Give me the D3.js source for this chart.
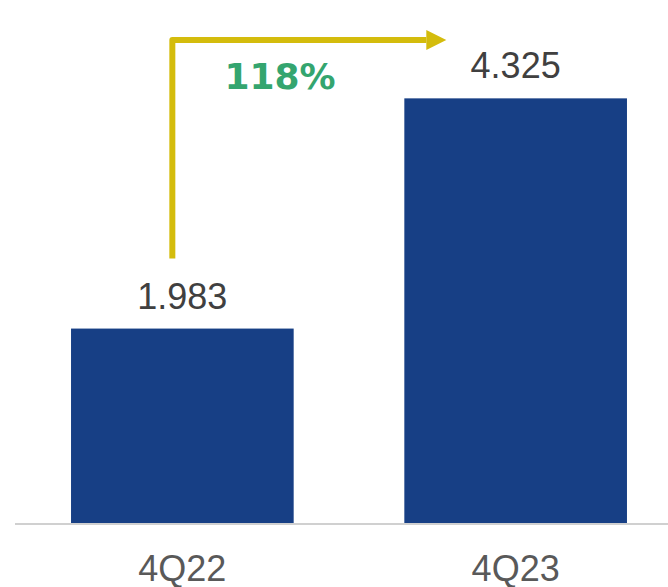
<!DOCTYPE html>
<html>
<head>
<meta charset="utf-8">
<script src="https://cdn.jsdelivr.net/npm/d3@7"></script>
<style>
  html, body { margin: 0; padding: 0; background: #ffffff; }
  svg { display: block; }
</style>
</head>
<body>
<svg id="chart" width="668" height="587"></svg>
<script>
const categories = ["4Q22", "4Q23"];
const values = [1.983, 4.325];
const valueLabels = ["1.983", "4.325"];
const growthLabel = "118%";

const W = 668, H = 587;
const svg = d3.select("#chart");

const x = d3.scaleBand()
  .domain(categories)
  .range([15.7, 682.3])
  .paddingInner(0.332)
  .paddingOuter(0.166);

const y = d3.scaleLinear()
  .domain([0, 5])
  .range([523.5, 523.5 - 5 * 98.3]);

// bars
svg.selectAll("rect.bar")
  .data(values)
  .enter().append("rect")
  .attr("class", "bar")
  .attr("x", (d, i) => x(categories[i]))
  .attr("width", x.bandwidth())
  .attr("y", d => y(d))
  .attr("height", d => y(0) - y(d))
  .attr("fill", "#173F85");

// baseline
svg.append("line")
  .attr("x1", 15).attr("x2", 668)
  .attr("y1", y(0) + 0.5).attr("y2", y(0) + 0.5)
  .attr("stroke", "#D0D0D0")
  .attr("stroke-width", 2);

// value labels
svg.selectAll("text.val")
  .data(values)
  .enter().append("text")
  .attr("class", "val")
  .attr("x", (d, i) => x(categories[i]) + x.bandwidth() / 2)
  .attr("y", d => y(d) - 20)
  .attr("text-anchor", "middle")
  .attr("font-family", "Liberation Sans, Arial, sans-serif")
  .attr("font-size", 36)
  .attr("fill", "#404040")
  .text((d, i) => valueLabels[i]);

// category labels
svg.selectAll("text.cat")
  .data(categories)
  .enter().append("text")
  .attr("class", "cat")
  .attr("x", d => x(d) + x.bandwidth() / 2)
  .attr("y", 581)
  .attr("text-anchor", "middle")
  .attr("font-family", "Liberation Sans, Arial, sans-serif")
  .attr("font-size", 36)
  .attr("fill", "#595959")
  .text(d => d);

// growth arrow
const ax0 = x(categories[0]) + x.bandwidth() * 0.455;
const ayBottom = y(values[0]) - 70;
const ayTop = 40;
const axEnd = x(categories[1]) + 22;
const yellow = "#D4BC0C";
svg.append("path")
  .attr("d", `M${ax0},${ayBottom} L${ax0},${ayTop} L${axEnd},${ayTop}`)
  .attr("fill", "none")
  .attr("stroke", yellow)
  .attr("stroke-width", 6)
  .attr("stroke-linejoin", "round");
svg.append("path")
  .attr("d", `M${axEnd},${ayTop - 10} L${axEnd + 20},${ayTop} L${axEnd},${ayTop + 10} Z`)
  .attr("fill", yellow);

svg.append("text")
  .attr("x", 280)
  .attr("y", 89)
  .attr("text-anchor", "middle")
  .attr("font-family", "DejaVu Sans, Verdana, sans-serif")
  .attr("font-weight", "bold")
  .attr("font-size", 36)
  .attr("fill", "#34A56F")
  .text(growthLabel);
</script>
</body>
</html>
